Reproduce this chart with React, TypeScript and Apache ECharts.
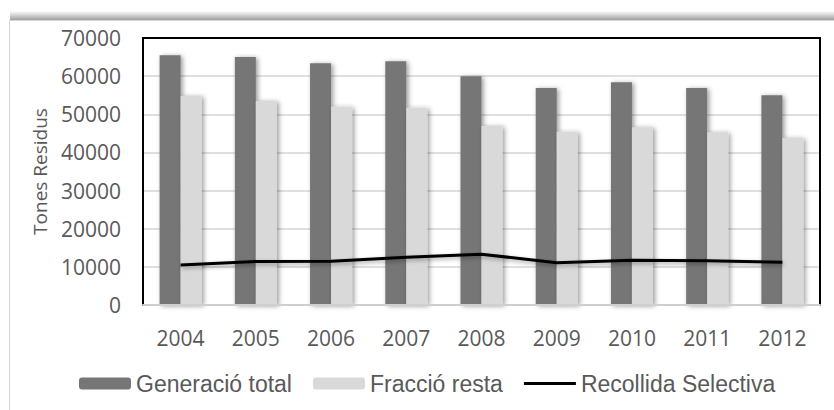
import React, { useEffect, useRef } from "react";
import * as echarts from "echarts";

// Residus municipals per any (tones)
const years = ["2004", "2005", "2006", "2007", "2008", "2009", "2010", "2011", "2012"];
const generacioTotal = [65500, 65000, 63400, 63900, 60000, 56900, 58400, 56900, 55000];
const fraccioResta = [54800, 53500, 52000, 51700, 46900, 45400, 46600, 45300, 43800];
const recollidaSelectiva = [10500, 11400, 11500, 12500, 13300, 11100, 11700, 11600, 11200];

const seriesNames = ["Generació total", "Fracció resta", "Recollida Selectiva"];

const TEXT = "#595959";
const DARK = "#767676";
const LIGHT = "#d9d9d9";

// Legend glyph for the line series: a 3px bar centred in a 52x12 box
const LINE_ICON = "path://M0,0L52,0L52,0.01L0,0.01Z M0,4.5L52,4.5L52,7.5L0,7.5Z M0,11.99L52,11.99L52,12L0,12Z";

export default function App() {
  const ref = useRef<HTMLDivElement>(null);

  useEffect(() => {
    if (!ref.current) return;
    const chart = echarts.init(ref.current, undefined, { renderer: "svg" });

    const barShadow = {
      shadowBlur: 5,
      shadowOffsetX: 2,
      shadowOffsetY: 1,
      shadowColor: "rgba(0,0,0,0.4)",
    };

    chart.setOption({
      animation: false,
      backgroundColor: "#ffffff",
      graphic: [
        {
          type: "rect",
          z: -10,
          silent: true,
          shape: { x: 10, y: 11, width: 830, height: 9 },
          style: {
            fill: new echarts.graphic.LinearGradient(0, 0, 0, 1, [
              { offset: 0, color: "rgba(0,0,0,0)" },
              { offset: 1, color: "rgba(0,0,0,0.38)" },
            ]),
          },
        },
        {
          type: "rect",
          z: -9,
          silent: true,
          shape: { x: 9.5, y: 20.5, width: 840, height: 400 },
          style: { fill: "#ffffff", stroke: "#d6d6d6", lineWidth: 1 },
        },
      ],
      grid: {
        left: 143,
        right: 14,
        top: 38,
        bottom: 105,
        show: true,
        borderColor: "#000000",
        borderWidth: 2,
        backgroundColor: "transparent",
        z: 3,
      },
      legend: {
        data: [
          { name: seriesNames[0] },
          { name: seriesNames[1] },
          { name: seriesNames[2], icon: LINE_ICON, itemStyle: { color: "#000000" } },
        ],
        left: 74,
        top: 367,
        itemWidth: 52,
        itemHeight: 12,
        itemGap: 21,
        textStyle: {
          color: TEXT,
          fontSize: 23,
          fontFamily: "Liberation Sans, Arial, sans-serif",
        },
      },
      xAxis: {
        type: "category",
        data: years,
        z: 4,
        axisLine: { lineStyle: { color: "#cfcfcf", width: 2 } },
        axisTick: { show: false },
        axisLabel: {
          color: TEXT,
          fontSize: 21,
          fontFamily: "Open Sans, sans-serif",
          margin: 22,
        },
      },
      yAxis: {
        type: "value",
        name: "Tones Residus",
        nameLocation: "middle",
        nameGap: 94,
        nameTextStyle: {
          color: TEXT,
          fontSize: 19,
          fontFamily: "Open Sans, sans-serif",
        },
        min: 0,
        max: 70000,
        interval: 10000,
        axisLine: { show: false },
        axisTick: { show: false },
        axisLabel: {
          color: TEXT,
          fontSize: 21,
          fontFamily: "Open Sans, sans-serif",
          margin: 22,
          formatter: (v: number) => String(v),
        },
        splitLine: {
          showMinLine: false,
          showMaxLine: false,
          lineStyle: { color: "#d4d4d4", width: 1.5 },
        },
      },
      series: [
        {
          name: seriesNames[0],
          type: "bar",
          data: generacioTotal,
          barWidth: 21,
          barGap: "0%",
          itemStyle: { color: DARK, ...barShadow },
        },
        {
          name: seriesNames[1],
          type: "bar",
          data: fraccioResta,
          barWidth: 21,
          barGap: "0%",
          itemStyle: { color: LIGHT, ...barShadow },
        },
        {
          name: seriesNames[2],
          type: "line",
          data: recollidaSelectiva,
          symbol: "none",
          z: 5,
          itemStyle: { color: "#000000" },
          lineStyle: {
            color: "#000000",
            width: 3,
            shadowBlur: 4,
            shadowOffsetX: 1,
            shadowOffsetY: 2,
            shadowColor: "rgba(0,0,0,0.35)",
          },
        },
      ],
    });

    return () => chart.dispose();
  }, []);

  return (
    <div
      ref={ref}
      style={{ position: "absolute", left: 0, top: 0, width: 834, height: 410 }}
    />
  );
}
